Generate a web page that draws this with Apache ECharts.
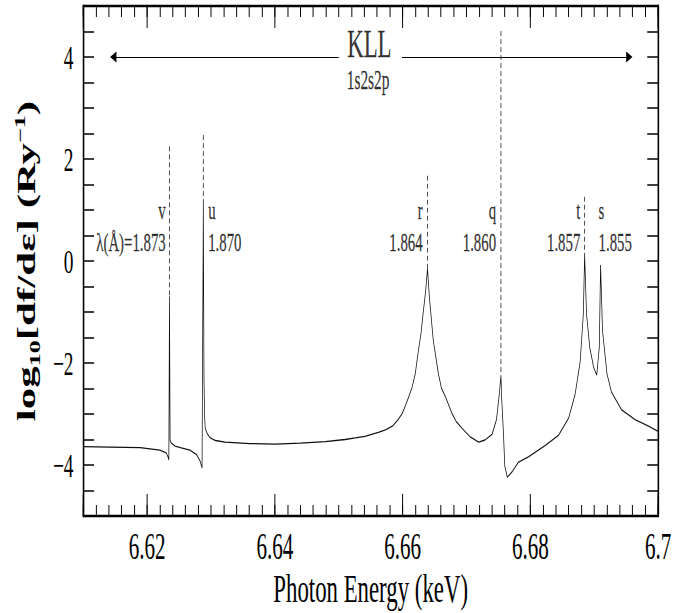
<!DOCTYPE html>
<html>
<head>
<meta charset="utf-8">
<script src="https://cdn.jsdelivr.net/npm/echarts@6/dist/echarts.min.js"></script>
<style>
html,body{margin:0;padding:0;overflow:hidden;background:#fff;}
#wrap{width:690px;height:613px;overflow:hidden;}
#c{width:1210px;height:613px;transform:scaleX(0.570248);transform-origin:0 0;}
</style>
</head>
<body>
<div id="wrap"><div id="c"></div></div>
<script>
// Photon energy (keV) and log10[df/dε]
const energy = [6.6100,6.6142,6.6189,6.6220,6.6230,6.6233,6.6234,6.6235,6.6236,6.6238,6.6244,6.6252,6.6267,6.6277,6.6283,6.6286,6.6288,6.6289,6.6290,6.6291,6.6294,6.6299,6.6307,6.6322,6.6361,6.6400,6.6440,6.6479,6.6510,6.6526,6.6541,6.6562,6.6573,6.6584,6.6593,6.6599,6.6604,6.6610,6.6615,6.6620,6.6624,6.6629,6.6632,6.6636,6.6639,6.6642,6.6648,6.6656,6.6661,6.6667,6.6677,6.6684,6.6693,6.6706,6.6719,6.6729,6.6740,6.6747,6.6751,6.6754,6.6755,6.6758,6.6760,6.6764,6.6771,6.6781,6.6797,6.6823,6.6844,6.6860,6.6870,6.6878,6.6883,6.6885,6.6888,6.6893,6.6899,6.6904,6.6908,6.6910,6.6913,6.6920,6.6927,6.6943,6.6964,6.6985,6.7000];
const logf = [-3.64,-3.65,-3.66,-3.71,-3.76,-3.85,-3.90,-0.69,-3.52,-3.57,-3.63,-3.66,-3.71,-3.79,-3.92,-4.06,1.12,-2.30,-3.05,-3.28,-3.38,-3.47,-3.52,-3.55,-3.58,-3.59,-3.57,-3.54,-3.50,-3.47,-3.44,-3.36,-3.31,-3.24,-3.11,-3.00,-2.85,-2.65,-2.47,-2.20,-1.82,-1.40,-1.04,-0.60,-0.15,-0.72,-1.55,-2.21,-2.50,-2.66,-2.98,-3.15,-3.28,-3.45,-3.55,-3.51,-3.40,-3.11,-2.66,-2.25,-2.66,-3.40,-4.02,-4.24,-4.14,-3.95,-3.84,-3.62,-3.42,-3.08,-2.62,-1.98,-1.04,0.12,-1.04,-1.69,-2.08,-2.24,-1.69,-0.08,-1.36,-2.21,-2.57,-2.92,-3.11,-3.24,-3.34];

// Line identifications
const lineNames = ['v','u','r','q','t','s'];
const lineWavelength = ['λ(Å)=1.873','1.870','1.864','1.860','1.857','1.855'];
const lineEnergy = [6.6235,6.6288,6.6639,6.6754,6.6885,6.6910];
const linePeak = [-0.69,1.12,-0.15,-2.25,0.12,-0.08];
const dashTop = [2.25,2.47,1.67,4.51,1.26,null];
const labelSide = ['left','right','left','left','left','right'];

// Axis ticks
const xTickValues = [6.62,6.64,6.66,6.68,6.70];
const xTickLabels = ['6.62','6.64','6.66','6.68','6.7'];
const yTickValues = [-4,-2,0,2,4];
const yTickLabels = ['−4','−2','0','2','4'];

// KLL band arrows
const arrowLeft = [[6.6500,4],[6.6147,4]];
const arrowRight = [[6.6599,4],[6.6955,4]];

const FONT = 'Liberation Serif';
const labelDist = [6,8,8,8,7,-4];
const labelY = 0.68;

const curve = energy.map((e,i)=>[e,logf[i]]);

const xFmt = v => { for (let i=0;i<xTickValues.length;i++) if (Math.abs(v-xTickValues[i])<1e-7) return xTickLabels[i]; return ''; };
const yFmt = v => { for (let i=0;i<yTickValues.length;i++) if (Math.abs(v-yTickValues[i])<1e-7) return yTickLabels[i]; return ''; };

function xAx(pos, major, labels){
  return {
    type:'value', position:pos, min:6.61, max:6.70,
    splitNumber: major ? 5 : undefined,
    interval: major ? undefined : 0.002,
    axisLine:{show:major, onZero:false, lineStyle:{color:'#000',width:2.3}},
    axisTick:{show:true, inside:true, length: major?22:11, lineStyle:{color:'#000',width:1.7}},
    axisLabel:{show:labels, formatter:xFmt, color:'#000', fontFamily:FONT, fontSize:37, margin:12},
    splitLine:{show:false},
    name: labels ? 'Photon Energy (keV)' : '',
    nameLocation:'middle', nameGap:52, nameMoveOverlap:false,
    nameTextStyle:{color:'#000', fontFamily:FONT, fontSize:40}
  };
}
function yAx(pos, labels){
  return {
    type:'value', position:pos, min:-5, max:5, interval:0.5,
    axisLine:{show:true, onZero:false, lineStyle:{color:'#000',width:2.8}},
    axisTick:{show:true, inside:true, length:19, lineStyle:{color:'#000',width:1.5}},
    axisLabel:{show:labels, formatter:yFmt, color:'#000', fontFamily:FONT, fontSize:34, margin:17},
    splitLine:{show:false},
    name: labels ? '{b|log}{sub|10}{b|[df/dε] (Ry}{sup|−1}{b|)}' : '',
    nameLocation:'middle', nameGap:72, nameRotate:90, nameMoveOverlap:false,
    nameTextStyle:{color:'#000', fontFamily:FONT, rich:{
      b:{fontFamily:FONT, fontWeight:'bold', fontSize:43, lineHeight:52, color:'#000'},
      sub:{fontFamily:FONT, fontWeight:'bold', fontSize:26, lineHeight:25, verticalAlign:'bottom', color:'#000'},
      sup:{fontFamily:FONT, fontWeight:'bold', fontSize:26, lineHeight:25, verticalAlign:'top', color:'#000'}
    }}
  };
}

const series = [];
// dashed markers from top down to each peak
lineEnergy.forEach((e,i)=>{
  if (dashTop[i]===null) return;
  series.push({type:'line', xAxisIndex:0, yAxisIndex:0, data:[[e,dashTop[i]],[e,linePeak[i]]],
    showSymbol:false, symbol:'none', silent:true, animation:false,
    lineStyle:{color:'#333', width:1.5, type:[5,3]}});
});
series.push({type:'line', xAxisIndex:0, yAxisIndex:0, data:curve, showSymbol:false, symbol:'none',
  animation:false, lineStyle:{color:'#111', width:1.3}});
series.push({type:'lines', coordinateSystem:'cartesian2d', xAxisIndex:0, yAxisIndex:0, animation:false,
  symbol:['none','triangle'], symbolSize:11,
  lineStyle:{color:'#000', width:1.2, opacity:1},
  data:[{coords:arrowLeft},{coords:arrowRight}]});
// annotations
const ann = lineEnergy.map((e,i)=>({
  value:[e,labelY],
  label:{show:true, position:labelSide[i], distance:labelDist[i],
    formatter: lineNames[i]+'\n'+lineWavelength[i]}
}));
ann.push({value:[6.6548,4.26], label:{show:true, position:'inside', formatter:'KLL', fontSize:40, lineHeight:40}});
ann.push({value:[6.6546,3.55], label:{show:true, position:'inside', formatter:'1s2s2p', fontSize:27, lineHeight:28}});
series.push({type:'scatter', xAxisIndex:0, yAxisIndex:0, symbolSize:1, animation:false, silent:true,
  itemStyle:{color:'transparent'},
  label:{color:'#000', fontFamily:FONT, fontSize:26, lineHeight:32, textBorderColor:'#000', textBorderWidth:0.3},
  data:ann});

const chart = echarts.init(document.getElementById('c'), null, {renderer:'svg', width:1210, height:613});
chart.setOption({
  backgroundColor:'#fff',
  animation:false,
  grid:{left:146, right:56, top:6, bottom:94, containLabel:false},
  xAxis:[xAx('bottom',true,true), xAx('bottom',false,false), xAx('top',true,false), xAx('top',false,false)],
  yAxis:[yAx('left',true), yAx('right',false)],
  series: series
});
</script>
</body>
</html>
